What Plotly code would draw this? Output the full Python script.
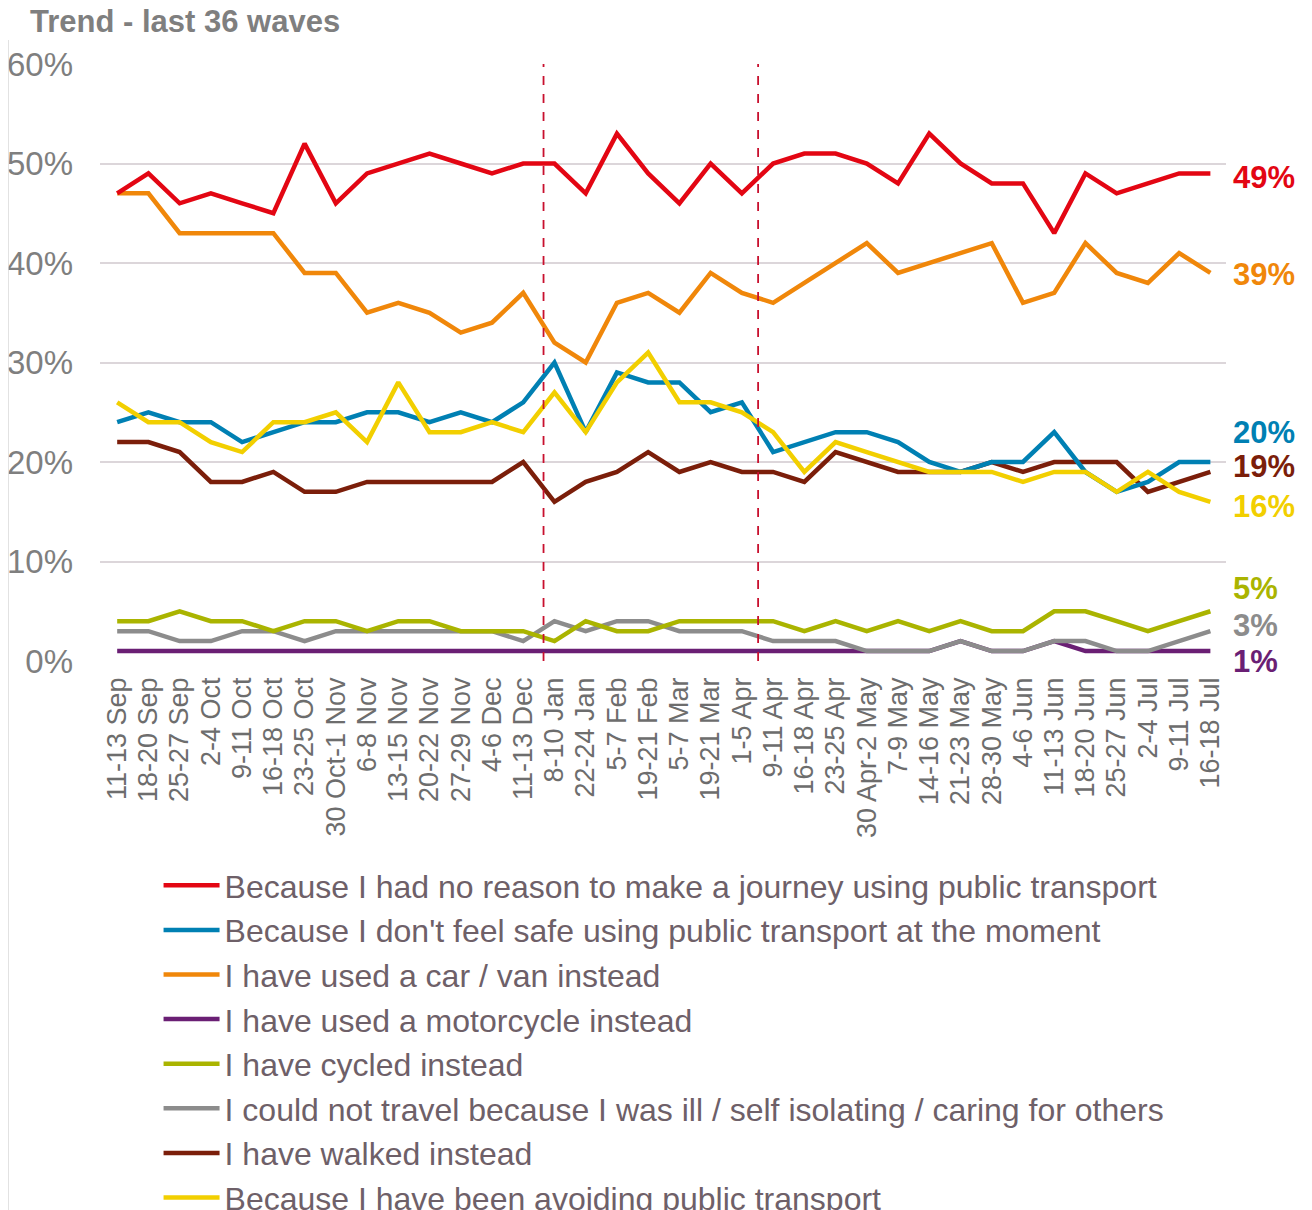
import plotly.graph_objects as go

waves = ["11-13 Sep", "18-20 Sep", "25-27 Sep", "2-4 Oct", "9-11 Oct", "16-18 Oct",
         "23-25 Oct", "30 Oct-1 Nov", "6-8 Nov", "13-15 Nov", "20-22 Nov", "27-29 Nov",
         "4-6 Dec", "11-13 Dec", "8-10 Jan", "22-24 Jan", "5-7 Feb", "19-21 Feb",
         "5-7 Mar", "19-21 Mar", "1-5 Apr", "9-11 Apr", "16-18 Apr", "23-25 Apr",
         "30 Apr-2 May", "7-9 May", "14-16 May", "21-23 May", "28-30 May", "4-6 Jun",
         "11-13 Jun", "18-20 Jun", "25-27 Jun", "2-4 Jul", "9-11 Jul", "16-18 Jul"]

no_reason = [47, 49, 46, 47, 46, 45, 52, 46, 49, 50, 51, 50, 49, 50, 50, 47, 53, 49,
             46, 50, 47, 50, 51, 51, 50, 48, 53, 50, 48, 48, 43, 49, 47, 48, 49, 49]
not_safe = [24, 25, 24, 24, 22, 23, 24, 24, 25, 25, 24, 25, 24, 26, 30, 23, 29, 28,
            28, 25, 26, 21, 22, 23, 23, 22, 20, 19, 20, 20, 23, 19, 17, 18, 20, 20]
car_van = [47, 47, 43, 43, 43, 43, 39, 39, 35, 36, 35, 33, 34, 37, 32, 30, 36, 37,
           35, 39, 37, 36, 38, 40, 42, 39, 40, 41, 42, 36, 37, 42, 39, 38, 41, 39]
motorcycle = [1, 1, 1, 1, 1, 1, 1, 1, 1, 1, 1, 1, 1, 1, 1, 1, 1, 1,
              1, 1, 1, 1, 1, 1, 1, 1, 1, 2, 1, 1, 2, 1, 1, 1, 1, 1]
cycled = [4, 4, 5, 4, 4, 3, 4, 4, 3, 4, 4, 3, 3, 3, 2, 4, 3, 3,
          4, 4, 4, 4, 3, 4, 3, 4, 3, 4, 3, 3, 5, 5, 4, 3, 4, 5]
ill_isolating = [3, 3, 2, 2, 3, 3, 2, 3, 3, 3, 3, 3, 3, 2, 4, 3, 4, 4,
                 3, 3, 3, 2, 2, 2, 1, 1, 1, 2, 1, 1, 2, 2, 1, 1, 2, 3]
walked = [22, 22, 21, 18, 18, 19, 17, 17, 18, 18, 18, 18, 18, 20, 16, 18, 19, 21,
          19, 20, 19, 19, 18, 21, 20, 19, 19, 19, 20, 19, 20, 20, 20, 17, 18, 19]
avoiding = [26, 24, 24, 22, 21, 24, 24, 25, 22, 28, 23, 23, 24, 23, 27, 23, 28, 31,
            26, 26, 25, 23, 19, 22, 21, 20, 19, 19, 19, 18, 19, 19, 17, 19, 17, 16]

names = ["Because I had no reason to make a journey using public transport",
         "Because I don't feel safe using public transport at the moment",
         "I have used a car / van instead",
         "I have used a motorcycle instead",
         "I have cycled instead",
         "I could not travel because I was ill / self isolating / caring for others",
         "I have walked instead",
         "Because I have been avoiding public transport"]
series = [no_reason, not_safe, car_van, motorcycle, cycled, ill_isolating, walked, avoiding]
colors = ["#E30613", "#0080B3", "#F0870A", "#6A1F74", "#AAB400", "#8C8C8C", "#7B1E0A", "#F2CF00"]
draw_order = [3, 5, 4, 6, 1, 7, 2, 0]

end_labels = ["49%", "20%", "39%", "1%", "5%", "3%", "19%", "16%"]
label_y = [48.6, 23.0, 38.8, 0.0, 7.3, 3.6, 19.5, 15.5]

break_positions = [13.65, 20.52]

font_family = "Liberation Sans, Arial, sans-serif"

fig = go.Figure()
for i in draw_order:
    fig.add_trace(go.Scatter(
        x=waves, y=series[i], name=names[i], mode="lines",
        line=dict(color=colors[i], width=4.5),
        legendrank=i + 1,
        hoverinfo="skip",
    ))

for i in range(len(series)):
    fig.add_annotation(
        x=waves[-1], y=label_y[i], text="<b>%s</b>" % end_labels[i],
        xref="x", yref="y", xanchor="left", yanchor="middle", xshift=21,
        showarrow=False, font=dict(size=31, color=colors[i], family=font_family),
    )

for bx in break_positions:
    fig.add_shape(type="line", xref="x", yref="y", x0=bx, x1=bx, y0=0, y1=60,
                  line=dict(color="#C8102E", width=1.8, dash="dash"))

fig.add_shape(type="line", xref="paper", yref="paper", x0=-0.0817, x1=-0.0817,
              y0=1.04, y1=-0.95, line=dict(color="#D9D9D9", width=1.5))

fig.add_annotation(
    x=-0.064, y=1.072, xref="paper", yref="paper", xanchor="left", yanchor="middle",
    text="<b>Trend - last 36 waves</b>", showarrow=False,
    font=dict(size=31, color="#7F7F7F", family=font_family),
)

fig.update_layout(
    width=1312, height=1210,
    margin=dict(l=92, r=94, t=56, b=557, autoexpand=False),
    plot_bgcolor="white", paper_bgcolor="white",
    font=dict(family=font_family, color="#6D6D6D"),
    showlegend=True,
    legend=dict(
        x=0.052, y=-0.33, xanchor="left", yanchor="top",
        font=dict(size=32, color="#6E6068", family=font_family),
        tracegroupgap=0, itemwidth=56, bgcolor="rgba(0,0,0,0)",
    ),
    xaxis=dict(
        type="category", range=[-0.55, 35.5], tickangle=-90,
        tickmode="array", tickvals=waves, ticktext=waves,
        tickfont=dict(size=27, color="#6D6D6D"), showgrid=False,
        showline=False, ticks="", zeroline=False, ticklabelstandoff=10,
    ),
    yaxis=dict(
        range=[0, 60], dtick=10, ticksuffix="%",
        tickfont=dict(size=33, color="#7F7F7F"),
        showgrid=True, gridcolor="#DCD6DA", gridwidth=1.5,
        zeroline=False, showline=False, ticklabelstandoff=26,
    ),
)

fig.write_html("out.html")
